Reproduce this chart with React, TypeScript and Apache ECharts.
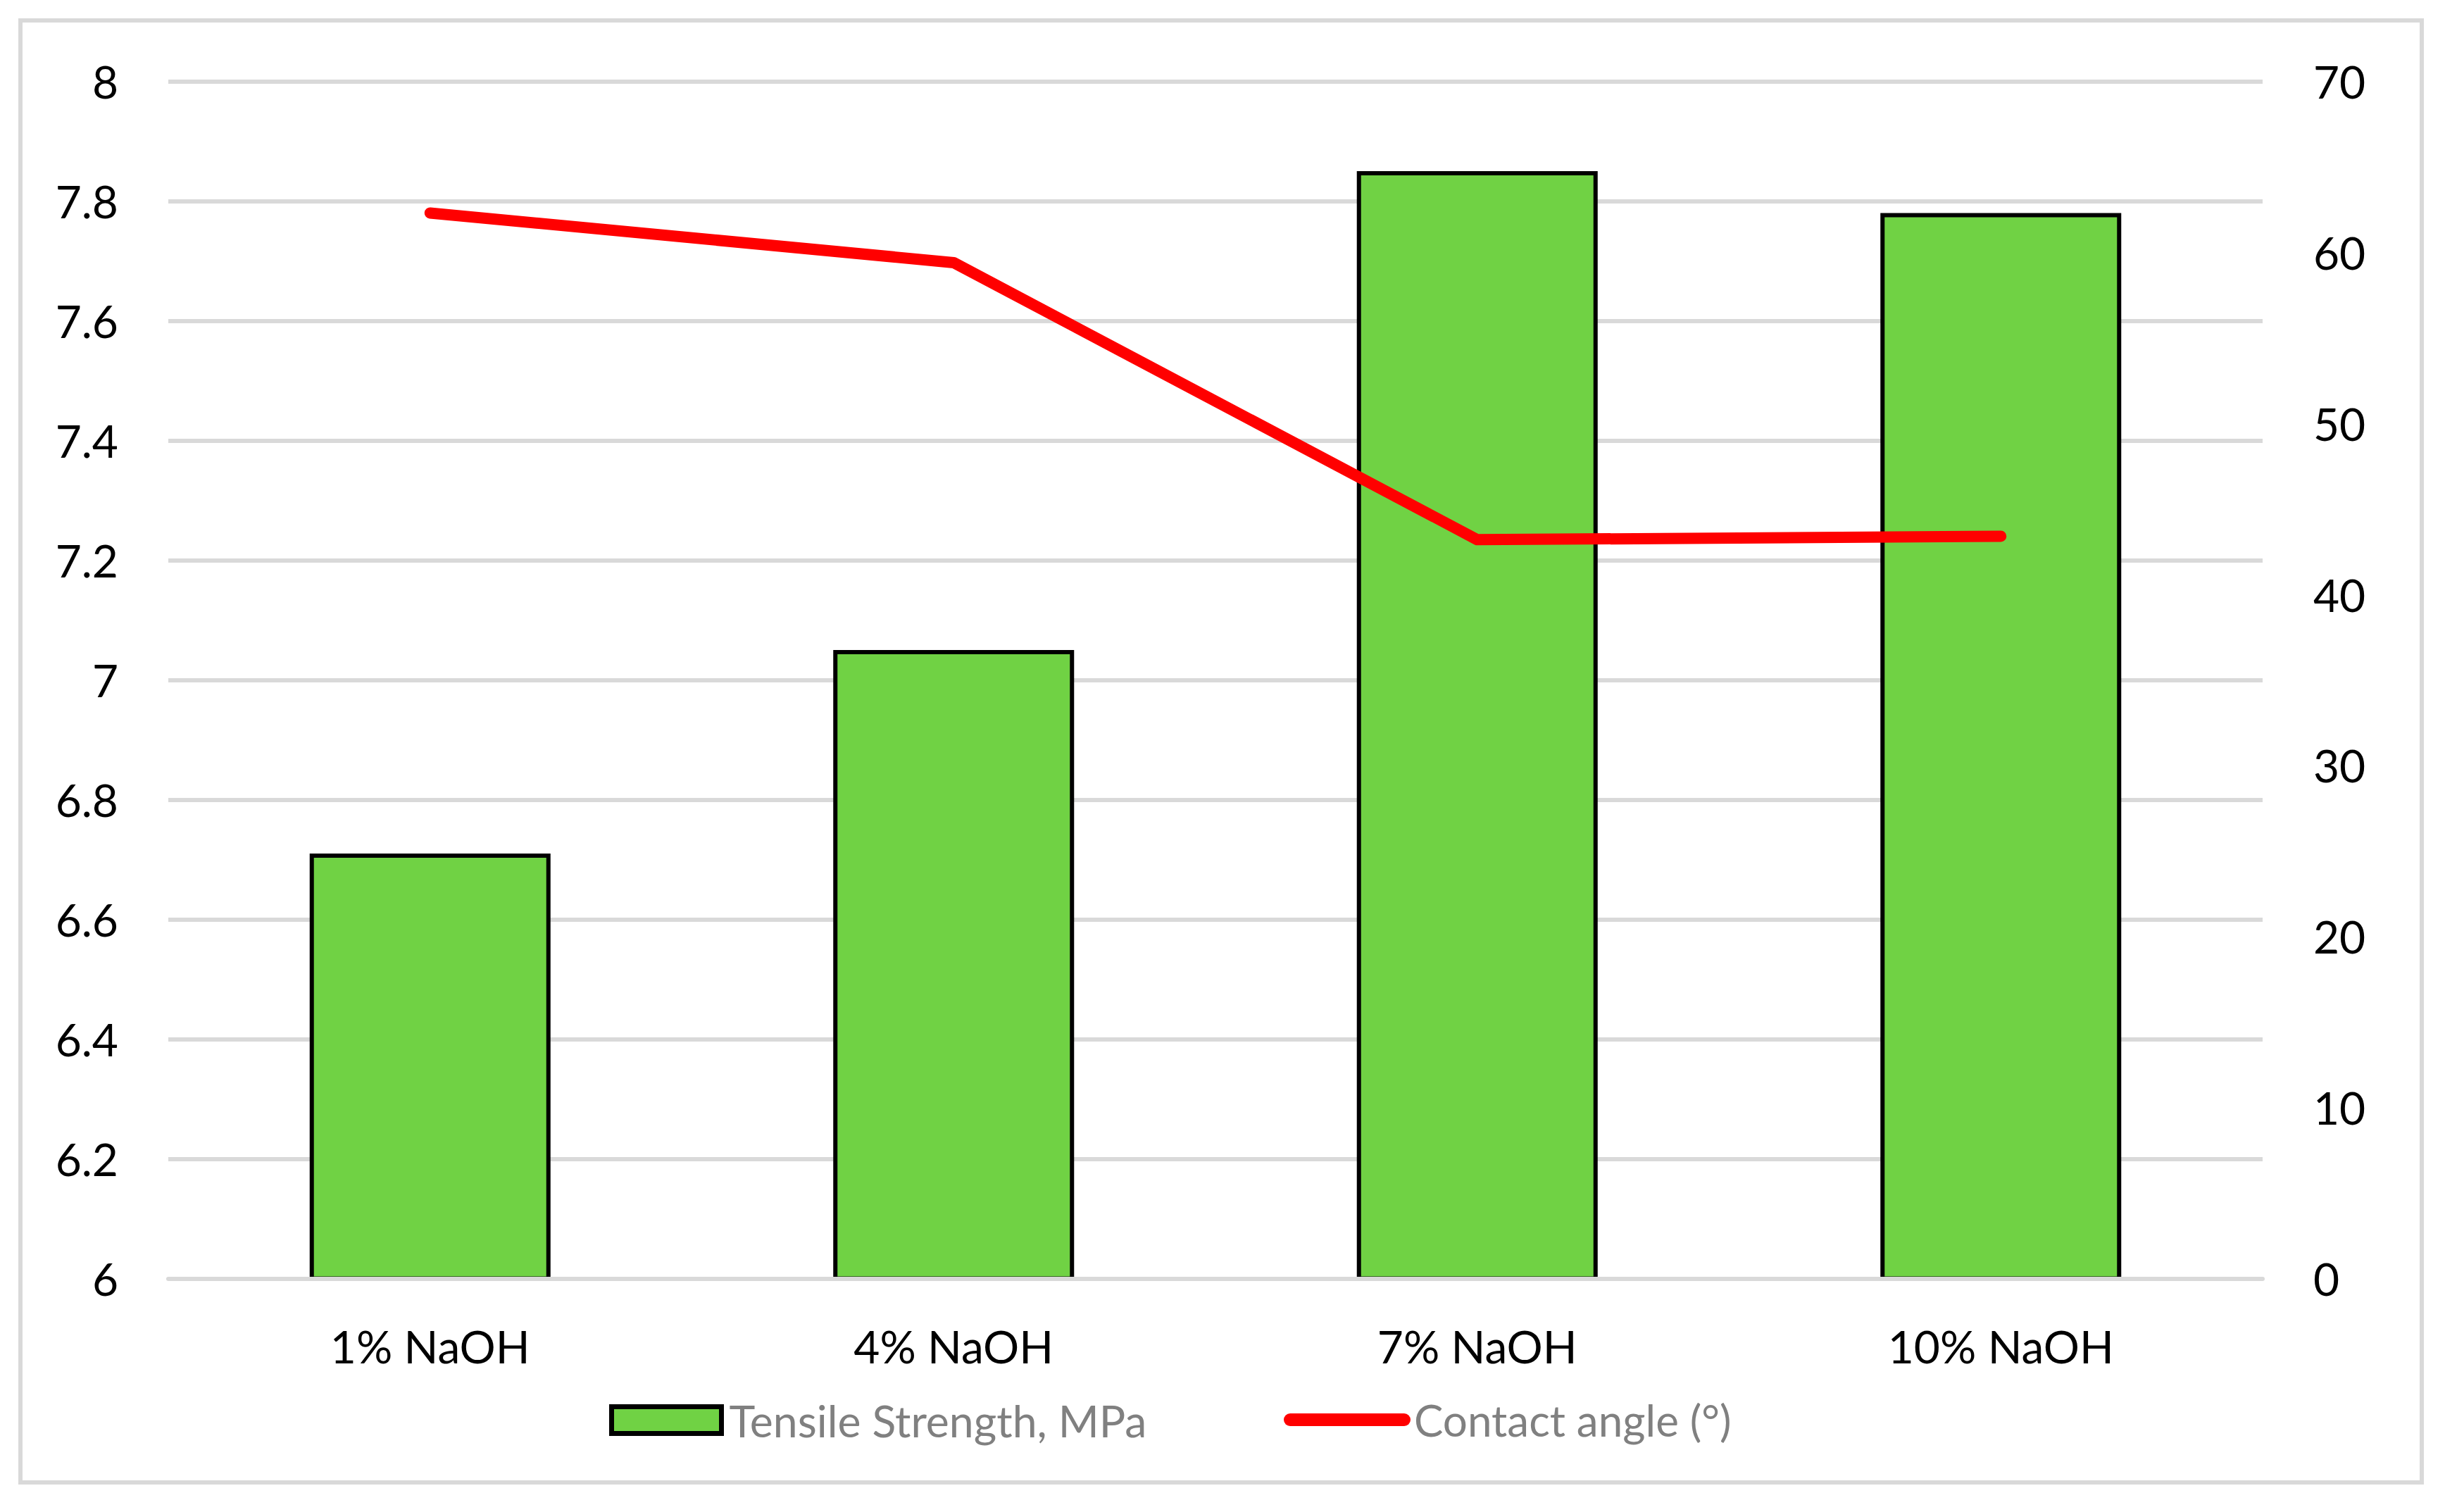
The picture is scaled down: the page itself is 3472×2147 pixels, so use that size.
import React, { useEffect, useRef } from "react";
import * as echarts from "echarts";

const categories = ["1% NaOH", "4% NaOH", "7% NaOH", "10% NaOH"];
const tensileStrength = [6.71, 7.05, 7.85, 7.78];
const contactAngle = [62.3, 59.4, 43.2, 43.4];
const leftAxis = { min: 6, max: 8, interval: 0.2 };
const rightAxis = { min: 0, max: 70, interval: 10 };
const seriesNames = ["Tensile Strength, MPa", "Contact angle (°)"];

const FONT = "Lato";

export default function App() {
  const ref = useRef<HTMLDivElement>(null);
  useEffect(() => {
    document.body.style.margin = "0";
    document.body.style.overflow = "hidden";
    const chart = echarts.init(ref.current!, null, { renderer: "svg" });
    chart.setOption({
      animation: false,
      backgroundColor: "#ffffff",
      textStyle: { fontFamily: FONT },
      grid: { left: 239, right: 259, top: 115.5, bottom: 331.5, containLabel: false },
      graphic: [
        {
          type: "rect",
          shape: { x: 29, y: 29, width: 3410, height: 2076 },
          style: { fill: "none", stroke: "#d9d9d9", lineWidth: 6 },
          silent: true,
        },
      ],
      legend: [
        {
          data: [
            {
              name: seriesNames[0],
              icon: "rect",
              itemStyle: { color: "#70D244", borderColor: "#000000", borderWidth: 7 },
            },
          ],
          left: 860,
          top: 1980,
          itemWidth: 156,
          itemHeight: 38,
          textStyle: { fontFamily: FONT, fontSize: 62.5, color: "#808080", padding: [0, 0, 0, 6] },
        },
        {
          data: [
            {
              name: seriesNames[1],
              icon: "path://M9,0 H171 A9,9 0 0 1 171,18 H9 A9,9 0 0 1 9,0 Z",
              itemStyle: { color: "#ff0000" },
            },
          ],
          left: 1818,
          top: 1980,
          itemWidth: 180,
          itemHeight: 18,
          textStyle: { fontFamily: FONT, fontSize: 62, color: "#808080", padding: [0, 0, 0, 0] },
        },
      ],
      xAxis: {
        type: "category",
        data: categories,
        axisLine: { show: true, lineStyle: { color: "#d9d9d9", width: 6 } },
        axisTick: { show: false },
        axisLabel: { fontFamily: FONT, fontSize: 64, color: "#000000", margin: 64 },
        z: 5,
      },
      yAxis: [
        {
          type: "value",
          min: leftAxis.min,
          max: leftAxis.max,
          interval: leftAxis.interval,
          axisLine: { show: false },
          axisTick: { show: false },
          splitLine: { show: true, lineStyle: { color: "#d9d9d9", width: 6 } },
          axisLabel: { fontFamily: FONT, fontSize: 64, color: "#000000", margin: 71 },
        },
        {
          type: "value",
          position: "right",
          min: rightAxis.min,
          max: rightAxis.max,
          interval: rightAxis.interval,
          axisLine: { show: false },
          axisTick: { show: false },
          splitLine: { show: false },
          axisLabel: { fontFamily: FONT, fontSize: 64, color: "#000000", margin: 72 },
        },
      ],
      series: [
        {
          name: seriesNames[0],
          type: "bar",
          yAxisIndex: 0,
          data: tensileStrength,
          barWidth: "46%",
          itemStyle: { color: "#70D244", borderColor: "#000000", borderWidth: 6 },
        },
        {
          name: seriesNames[1],
          type: "line",
          yAxisIndex: 1,
          data: contactAngle,
          symbol: "none",
          lineStyle: { color: "#ff0000", width: 16, cap: "round", join: "round" },
          itemStyle: { color: "#ff0000" },
          z: 10,
        },
      ],
    });
    return () => chart.dispose();
  }, []);
  return (
    <div
      ref={ref}
      style={{ position: "absolute", left: 0, top: 0, width: 3472, height: 2147 }}
    />
  );
}
